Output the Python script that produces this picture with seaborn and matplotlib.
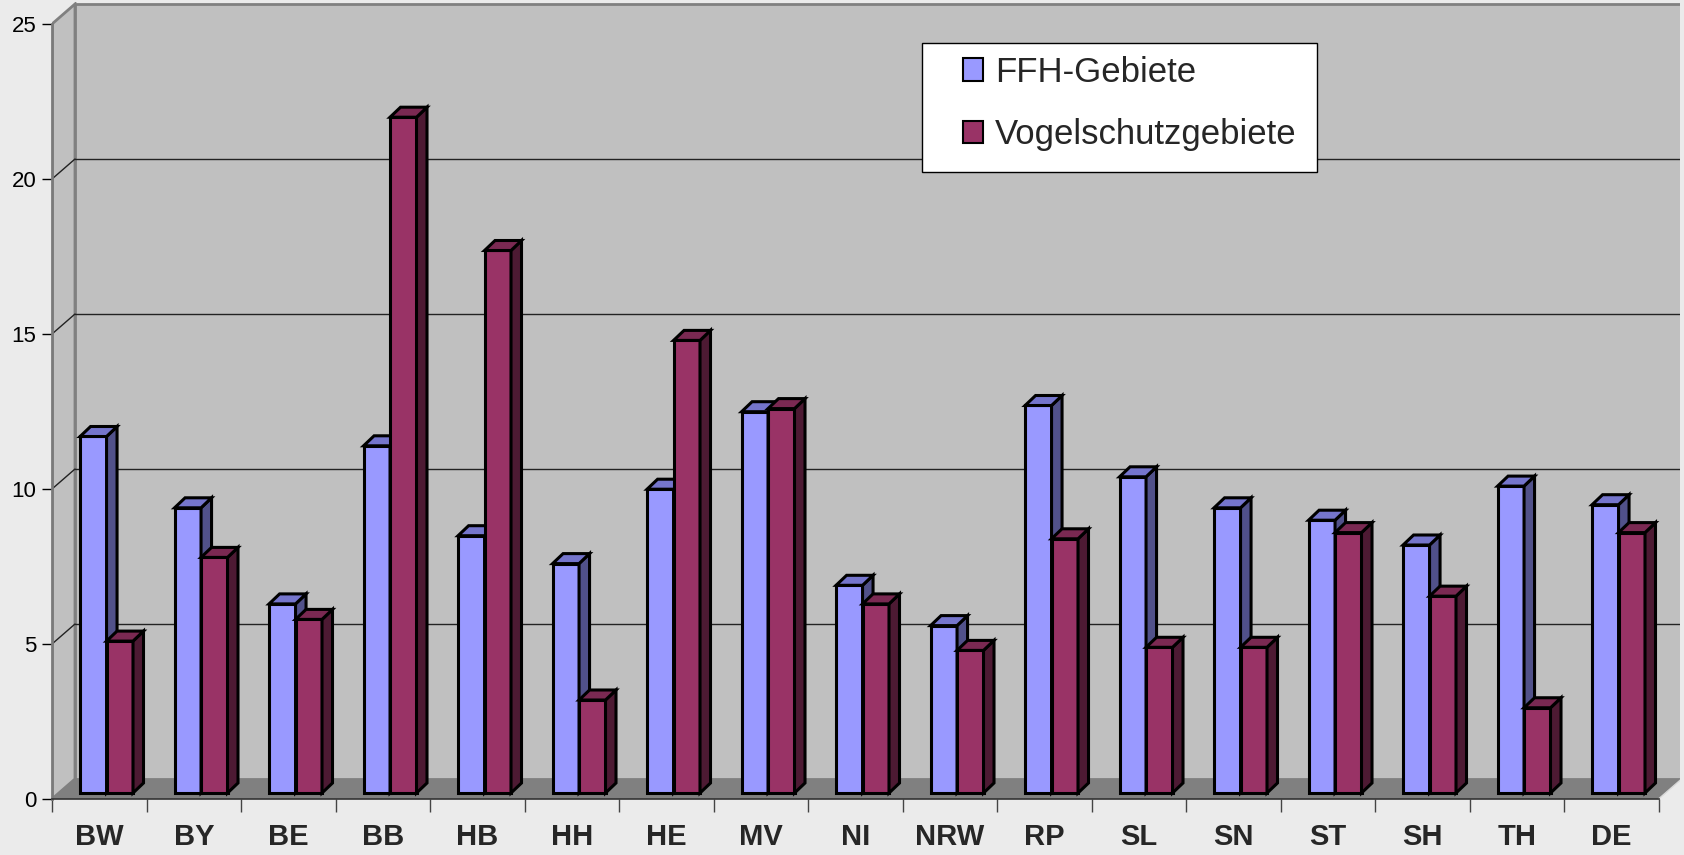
import numpy as np
import pandas as pd
import matplotlib
matplotlib.use("Agg")
import matplotlib.pyplot as plt
from matplotlib.patches import Polygon, Rectangle, Patch
import seaborn as sns

# Daten
laender = ["BW", "BY", "BE", "BB", "HB", "HH", "HE", "MV", "NI",
           "NRW", "RP", "SL", "SN", "ST", "SH", "TH", "DE"]
ffh = [11.5, 9.2, 6.1, 11.2, 8.3, 7.4, 9.8, 12.3, 6.7,
       5.4, 12.5, 10.2, 9.2, 8.8, 8.0, 9.9, 9.3]
vogel = [4.9, 7.6, 5.6, 21.8, 17.5, 3.0, 14.6, 12.4, 6.1,
         4.6, 8.2, 4.7, 4.7, 8.4, 6.35, 2.75, 8.4]
serien = ["FFH-Gebiete", "Vogelschutzgebiete"]
y_ticks = [0, 5, 10, 15, 20, 25]

df = pd.DataFrame({
    "land": laender * 2,
    "serie": [serien[0]] * len(laender) + [serien[1]] * len(laender),
    "wert": ffh + vogel,
})

# Farben (Front, Seite, Deckel)
face_cols = ["#9999FF", "#993366"]
side_cols = ["#51518A", "#4D1A33"]
top_cols = ["#7575CC", "#7A2952"]
bg = "#EBEBEB"
wall = "#C0C0C0"

sns.set_style("white")
plt.rcParams["font.family"] = ["Liberation Sans", "DejaVu Sans"]

W, H = 1684, 855
PX_X, PX_Y = 94.5, 31.0          # Pixel pro Kategorie / pro Werteinheit
fig = plt.figure(figsize=(W / 100, H / 100), dpi=100, facecolor=bg)
ax = fig.add_axes([52 / W, (H - 799) / H, (1680 - 52) / W, (799 - 2) / H])
ax.set_facecolor("none")
n = len(laender)

# Tiefe der Wände, Versatz der Balken, Tiefe der Balken (in Dateneinheiten)
wx, wy = 23 / PX_X, 20 / PX_Y
ox, oy = 7.3 / PX_X, 6 / PX_Y
dx, dy = 10.5 / PX_X, 10 / PX_Y

# Wände und Boden
ax.add_patch(Polygon([(-0.5, 0), (-0.5, 25), (-0.5 + wx, 25 + wy), (-0.5 + wx, wy)],
                     closed=True, facecolor=wall, edgecolor="#808080", lw=2, zorder=0))
ax.add_patch(Rectangle((-0.5 + wx, wy), n, 25, facecolor=wall,
                       edgecolor="#808080", lw=2, zorder=0))
ax.add_patch(Polygon([(-0.5, 0), (n - 0.5, 0), (n - 0.5 + wx, wy), (-0.5 + wx, wy)],
                     closed=True, facecolor="#808080", edgecolor="none", zorder=1))
ax.plot([n - 0.5, n - 0.5 + wx], [0, wy], color="#D8D8D8", lw=1, zorder=1)
for v in y_ticks[1:-1]:
    ax.plot([-0.5 + wx, n - 0.5 + wx], [v + wy, v + wy], color="#222222", lw=1, zorder=1)
    ax.plot([-0.5, -0.5 + wx], [v, v + wy], color="#222222", lw=1, zorder=1)

sns.barplot(data=df, x="land", y="wert", hue="serie", order=laender,
            hue_order=serien, palette=face_cols, width=0.56, gap=0,
            saturation=1, errorbar=None, edgecolor="black", linewidth=2.2,
            legend=False, ax=ax)

# 3D-Optik: Balken verschieben, Seite und Deckel ergänzen
for s, cont in enumerate(ax.containers):
    for i, rect in enumerate(cont.patches):
        z = 3 + (i * 2 + s) * 3
        x0 = rect.get_x() + ox
        w = rect.get_width()
        h = rect.get_height()
        rect.set_x(x0)
        rect.set_y(oy)
        rect.set_zorder(z)
        rect.set_joinstyle("miter")
        x1 = x0 + w
        side = Polygon([(x1, oy), (x1 + dx, oy + dy), (x1 + dx, oy + h + dy), (x1, oy + h)],
                       closed=True, facecolor=side_cols[s], edgecolor="black",
                       lw=2.2, joinstyle="miter", zorder=z + 1)
        top = Polygon([(x0, oy + h), (x0 + dx, oy + h + dy), (x1 + dx, oy + h + dy), (x1, oy + h)],
                      closed=True, facecolor=top_cols[s], edgecolor="black",
                      lw=2.2, joinstyle="miter", zorder=z + 2)
        ax.add_patch(side)
        ax.add_patch(top)

# seaborn setzt die Grenzen zurück -> danach festlegen
ax.set_xlim(-0.5, -0.5 + (1680 - 52) / PX_X)
ax.set_ylim(0, (799 - 2) / PX_Y)

# Achsen
for sp in ["top", "right"]:
    ax.spines[sp].set_visible(False)
ax.spines["left"].set_bounds(0, 25)
ax.spines["left"].set_color("#7A7A7A")
ax.spines["left"].set_linewidth(2)
ax.spines["bottom"].set_bounds(-0.5, n - 0.5)
ax.spines["bottom"].set_color("#333333")
ax.spines["bottom"].set_linewidth(1.2)
ax.spines["left"].set_zorder(2)

ax.set_yticks(y_ticks)
ax.set_yticklabels([str(v) for v in y_ticks])
ax.tick_params(axis="y", direction="out", length=7.2, width=1, pad=4,
               labelsize=16, colors="black", left=True)
ax.set_xticks(range(n))
ax.set_xticklabels(laender, fontweight="bold", fontsize=21)
ax.set_xticks(np.arange(-0.5, n, 1), minor=True)
ax.tick_params(axis="x", which="major", length=0, pad=17, bottom=False)
ax.tick_params(axis="x", which="minor", direction="out", length=9.5, width=1,
               color="#444444", bottom=True)
ax.set_xlabel("")
ax.set_ylabel("")

# Legende: Rahmen separat, damit die Box genau sitzt
fig.add_artist(Rectangle((922 / W, 1 - 172 / H), (1317 - 922) / W, (172 - 43) / H,
                         transform=fig.transFigure, facecolor="white",
                         edgecolor="black", lw=1, zorder=99))
handles = [Patch(facecolor=face_cols[k], edgecolor="black", lw=1.5, label=serien[k])
           for k in range(2)]
leg = fig.legend(handles=handles, loc="upper left",
                 bbox_to_anchor=(956 / W, 1 - 49 / H), borderaxespad=0,
                 fontsize=25, frameon=False, handlelength=0.57, handleheight=0.62,
                 handletextpad=0.35, labelspacing=0.85, borderpad=0.2)
leg.set_zorder(100)

fig.savefig("out.png", dpi=100, facecolor=bg)
